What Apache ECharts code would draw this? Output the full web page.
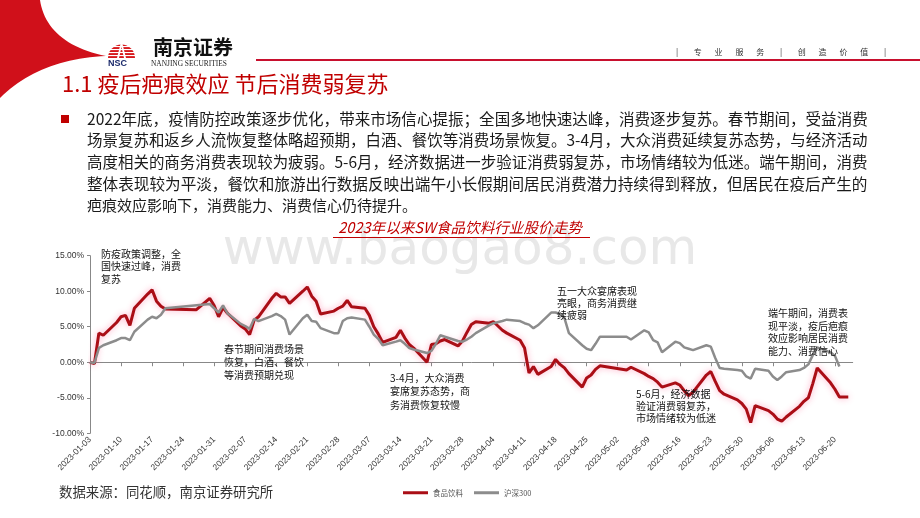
<!DOCTYPE html>
<html><head><meta charset="utf-8">
<script src="https://cdn.jsdelivr.net/npm/echarts@6/dist/echarts.min.js"></script>
<style>html,body{margin:0;padding:0;background:#fff}#c{width:920px;height:518px}</style>
</head><body><div id="c"></div>
<script>
// ---------- data ----------
const seriesNames = ['食品饮料', '沪深300'];
const foodDates = ['2023-01-03','2023-01-04','2023-01-05','2023-01-06','2023-01-09','2023-01-10','2023-01-11','2023-01-12','2023-01-13','2023-01-16','2023-01-17','2023-01-18','2023-01-19','2023-01-20','2023-01-27','2023-01-30','2023-01-31','2023-02-01','2023-02-02','2023-02-03','2023-02-06','2023-02-07','2023-02-08','2023-02-09','2023-02-10','2023-02-13','2023-02-14','2023-02-15','2023-02-16','2023-02-17','2023-02-20','2023-02-21','2023-02-22','2023-02-23','2023-02-24','2023-02-27','2023-02-28','2023-03-01','2023-03-02','2023-03-03','2023-03-06','2023-03-07','2023-03-08','2023-03-09','2023-03-10','2023-03-13','2023-03-14','2023-03-15','2023-03-16','2023-03-17','2023-03-20','2023-03-21','2023-03-22','2023-03-23','2023-03-24','2023-03-27','2023-03-28','2023-03-29','2023-03-30','2023-03-31','2023-04-03','2023-04-04','2023-04-06','2023-04-07','2023-04-10','2023-04-11','2023-04-12','2023-04-13','2023-04-14','2023-04-17','2023-04-18','2023-04-19','2023-04-20','2023-04-21','2023-04-24','2023-04-25','2023-04-26','2023-04-27','2023-04-28','2023-05-04','2023-05-05','2023-05-08','2023-05-09','2023-05-10','2023-05-11','2023-05-12','2023-05-15','2023-05-16','2023-05-17','2023-05-18','2023-05-19','2023-05-22','2023-05-23','2023-05-24','2023-05-25','2023-05-26','2023-05-29','2023-05-30','2023-05-31','2023-06-01','2023-06-02','2023-06-05','2023-06-06','2023-06-07','2023-06-08','2023-06-09','2023-06-12','2023-06-13','2023-06-14','2023-06-15','2023-06-16','2023-06-19','2023-06-20','2023-06-21','2023-06-23'];
const foodValues = [0,-0.2,4.1,3.8,5.6,6.4,6.6,5.2,7.6,9.6,10.2,8.6,7.9,7.5,7.4,9.0,8.0,6.4,7.7,6.9,5.1,4.7,3.9,5.9,6.4,9.0,9.7,9.2,9.2,8.3,10.0,10.6,9.3,8.6,6.8,7.2,7.6,7.9,8.7,7.8,7.6,6.6,5.0,4.0,2.8,3.5,4.5,3.4,2.5,2.0,0.0,2.5,2.6,3.0,3.2,2.3,3.0,4.2,5.3,5.7,5.5,5.7,4.5,4.1,3.1,2.0,-1.5,-0.6,-1.7,-0.6,0.4,-0.3,-0.8,-1.6,-3.5,-2.2,-1.8,-1.0,-0.5,-1.1,-0.7,-1.6,-2.0,-2.3,-2.8,-3.5,-2.9,-3.2,-4.0,-4.7,-4.2,-1.8,-1.3,-2.7,-4.0,-4.5,-5.3,-5.8,-6.6,-8.5,-6.1,-6.8,-7.3,-8.0,-8.3,-7.7,-6.2,-5.5,-5.0,-3.0,-0.8,-2.9,-3.8,-4.9,-4.9];
const hs300Dates = ['2023-01-03','2023-01-04','2023-01-05','2023-01-06','2023-01-09','2023-01-10','2023-01-11','2023-01-12','2023-01-13','2023-01-16','2023-01-17','2023-01-18','2023-01-19','2023-01-20','2023-01-30','2023-01-31','2023-02-01','2023-02-02','2023-02-03','2023-02-06','2023-02-07','2023-02-08','2023-02-09','2023-02-10','2023-02-13','2023-02-14','2023-02-15','2023-02-16','2023-02-17','2023-02-20','2023-02-21','2023-02-22','2023-02-23','2023-02-24','2023-02-27','2023-02-28','2023-03-01','2023-03-02','2023-03-03','2023-03-06','2023-03-07','2023-03-08','2023-03-09','2023-03-10','2023-03-13','2023-03-14','2023-03-15','2023-03-16','2023-03-17','2023-03-20','2023-03-21','2023-03-22','2023-03-23','2023-03-24','2023-03-27','2023-03-28','2023-03-29','2023-03-30','2023-03-31','2023-04-03','2023-04-04','2023-04-06','2023-04-07','2023-04-10','2023-04-11','2023-04-12','2023-04-13','2023-04-14','2023-04-17','2023-04-18','2023-04-19','2023-04-20','2023-04-21','2023-04-24','2023-04-25','2023-04-26','2023-04-27','2023-04-28','2023-05-04','2023-05-05','2023-05-08','2023-05-09','2023-05-10','2023-05-11','2023-05-12','2023-05-15','2023-05-16','2023-05-17','2023-05-18','2023-05-19','2023-05-22','2023-05-23','2023-05-24','2023-05-25','2023-05-26','2023-05-29','2023-05-30','2023-05-31','2023-06-01','2023-06-02','2023-06-05','2023-06-06','2023-06-07','2023-06-08','2023-06-09','2023-06-12','2023-06-13','2023-06-14','2023-06-15','2023-06-16','2023-06-19','2023-06-20','2023-06-21'];
const hs300Values = [0,-0.1,2.0,2.4,3.1,3.4,3.4,3.1,4.3,6.0,6.4,6.2,6.7,7.6,8.2,7.6,7.0,8.0,6.9,5.4,5.1,4.7,6.1,5.8,6.5,6.8,6.5,6.0,3.9,6.2,6.7,5.8,5.7,4.8,4.1,4.1,5.8,6.2,6.3,6.0,5.0,3.9,3.3,2.4,2.9,3.1,2.6,2.0,1.8,1.3,1.6,2.6,3.8,3.6,3.0,2.9,3.2,3.6,4.1,5.2,5.5,5.8,6.0,5.8,5.5,5.3,4.8,5.2,7.0,7.0,6.8,6.2,4.1,2.4,1.9,1.7,2.6,3.6,3.6,3.2,4.5,4.2,3.1,2.8,1.4,2.9,2.7,2.1,1.9,1.7,2.4,2.2,0.6,-0.8,-0.9,-1.1,-1.2,-2.0,-2.3,-0.9,-1.2,-2.0,-2.5,-2.0,-1.4,-1.1,-0.8,-0.3,1.0,2.1,1.4,0.9,-0.6];
const xTickLabels = ['2023-01-03','2023-01-10','2023-01-17','2023-01-24','2023-01-31','2023-02-07','2023-02-14','2023-02-21','2023-02-28','2023-03-07','2023-03-14','2023-03-21','2023-03-28','2023-04-04','2023-04-11','2023-04-18','2023-04-25','2023-05-02','2023-05-09','2023-05-16','2023-05-23','2023-05-30','2023-06-06','2023-06-13','2023-06-20'];
const xAxisStart = '2023-01-03';
const xAxisEnd = '2023-06-24';
const yTicks = [-10, -5, 0, 5, 10, 15];
const chartTitle = '2023年以来SW食品饮料行业股价走势';
const pageTitle = '1.1 疫后疤痕效应 节后消费弱复苏';
const paragraphLines = [
  '2022年底，疫情防控政策逐步优化，带来市场信心提振；全国多地快速达峰，消费逐步复苏。春节期间，受益消费',
  '场景复苏和返乡人流恢复整体略超预期，白酒、餐饮等消费场景恢复。3-4月，大众消费延续复苏态势，与经济活动',
  '高度相关的商务消费表现较为疲弱。5-6月，经济数据进一步验证消费弱复苏，市场情绪较为低迷。端午期间，消费',
  '整体表现较为平淡，餐饮和旅游出行数据反映出端午小长假期间居民消费潜力持续得到释放，但居民在疫后产生的',
  '疤痕效应影响下，消费能力、消费信心仍待提升。'
];
const annotations = [
  '防疫政策调整，全\n国快速过峰，消费\n复苏',
  '春节期间消费场景\n恢复，白酒、餐饮\n等消费预期兑现',
  '3-4月，大众消费\n宴席复苏态势，商\n务消费恢复较慢',
  '五一大众宴席表现\n亮眼，商务消费继\n续疲弱',
  '5-6月，经济数据\n验证消费弱复苏，\n市场情绪较为低迷',
  '端午期间，消费表\n现平淡，疫后疤痕\n效应影响居民消费\n能力、消费信心'
];
const sourceText = '数据来源：同花顺，南京证券研究所';
const headerChars = ['|','专','业','服','务','|','创','造','价','值','|'];

// ---------- build ----------
const day = s => (Date.UTC(+s.slice(0,4), +s.slice(5,7)-1, +s.slice(8,10)) - Date.UTC(2023,0,3)) / 864e5;
const foodData = foodDates.map((d,i)=>[day(d), foodValues[i]]);
const hsData = hs300Dates.map((d,i)=>[day(d), hs300Values[i]]);
const tickVals = xTickLabels.map(day);

const CJK = '"Noto Sans CJK SC"';
const LAT = '"Liberation Sans", "Noto Sans CJK SC"';
const RED = '#C00000';

function bez(p0,p1,p2,p3,n){const out=[];for(let i=0;i<=n;i++){const t=i/n,u=1-t;out.push([u*u*u*p0[0]+3*u*u*t*p1[0]+3*u*t*t*p2[0]+t*t*t*p3[0],u*u*u*p0[1]+3*u*u*t*p1[1]+3*u*t*t*p2[1]+t*t*t*p3[1]]);}return out;}
const crescent = [[0,0]].concat(bez([40,0],[44,28],[66,48],[106,56],24), bez([106,56],[62,58],[26,72],[0,98],24));

// fit justified paragraph lines to the text block width
const mctx = document.createElement('canvas').getContext('2d');
function fitSize(text, width, base){ mctx.font = base + 'px ' + CJK; const w = mctx.measureText(text).width; return base * width / w; }
const paraSizes = paragraphLines.map((t,i)=> i < paragraphLines.length-1 ? Math.min(16.2, fitSize(t, 781, 15)) : 15);

const annPos = [[101,247.5,12.7],[224,343,12.7],[390,371,13.6],[557,285.5,11.8],[636,388,12.2],[768,307,12.6]];

const graphic = [];
graphic.push({type:'text', z:0, left:'center', top:226, style:{text:'www.baogao8.com', font:'50px "DejaVu Sans"', fill:'#e8e8e8'}});
graphic.push({type:'polygon', z:10, shape:{points:crescent}, style:{fill:'#D0101A'}});
graphic.push({type:'sector', z:10, shape:{cx:121.5, cy:58, r:13.5, startAngle:Math.PI, endAngle:2*Math.PI}, style:{fill:'#D7191C'}});
for (let i=0;i<4;i++) graphic.push({type:'rect', z:11, shape:{x:107,y:46+i*3,width:29,height:1.1}, style:{fill:'#fff'}});
graphic.push({type:'polygon', z:12, shape:{points:[[117,58],[121.5,40],[126,58],[124,58],[121.5,47],[119,58]]}, style:{fill:'#fff'}});
graphic.push({type:'text', z:10, x:153, y:47, style:{text:'南京证券', font:'bold 20px ' + CJK, fill:'#111', verticalAlign:'middle'}});
graphic.push({type:'text', z:10, x:108, y:64, style:{text:'NSC', font:'bold 9px ' + LAT, fill:'#1b2a6b', verticalAlign:'middle'}});
graphic.push({type:'text', z:10, x:151, y:64, style:{text:'NANJING SECURITIES', font:'7.4px "Liberation Serif"', fill:'#222', verticalAlign:'middle'}});
graphic.push({type:'rect', z:10, shape:{x:256,y:59,width:664,height:2}, style:{fill:'#C8102E'}});
headerChars.forEach((ch,i)=>graphic.push({type:'text', z:10, x:677+i*20.8, y:52, style:{text:ch, font:'8px ' + CJK, fill:'#333', align:'center', verticalAlign:'middle'}}));
graphic.push({type:'text', z:10, x:62, y:84, style:{text:pageTitle, font:'22px ' + CJK, fill:RED, verticalAlign:'middle'}});
graphic.push({type:'rect', z:10, shape:{x:61,y:115,width:8,height:8}, style:{fill:RED}});
paragraphLines.forEach((t,i)=>graphic.push({type:'text', z:10, x:87, y:119+i*21.6, style:{text:t, font:paraSizes[i].toFixed(2)+'px ' + CJK, fill:'#1a1a1a', verticalAlign:'middle'}}));
graphic.push({type:'text', z:10, left:'center', top:220, style:{text:chartTitle, font:'italic 14.6px ' + CJK, fill:RED}});
graphic.push({type:'rect', z:10, shape:{x:333,y:237,width:257,height:1}, style:{fill:RED}});
annotations.forEach((t,i)=>graphic.push({type:'text', z:10, x:annPos[i][0], y:annPos[i][1], style:{text:t, font:'10px ' + CJK, fill:'#111', lineHeight:annPos[i][2], verticalAlign:'top'}}));
graphic.push({type:'text', z:10, x:59, y:492, style:{text:sourceText, font:'13.4px ' + CJK, fill:'#333', verticalAlign:'middle'}});

const chart = echarts.init(document.getElementById('c'), null, {renderer:'canvas'});
chart.setOption({
  animation:false,
  backgroundColor:'#fff',
  textStyle:{fontFamily:LAT},
  grid:{left:90, right:67.3, top:255.7, bottom:84.7},
  legend:{
    data:seriesNames, left:398, top:484, icon:'rect', itemWidth:25, itemHeight:3, itemGap:11,
    textStyle:{fontSize:7.5, color:'#555', fontFamily:CJK}
  },
  xAxis:{
    type:'value', min:day(xAxisStart), max:day(xAxisEnd),
    axisLine:{show:true, lineStyle:{color:'#888', width:1}},
    axisTick:{show:true, length:4, customValues:tickVals, lineStyle:{color:'#888'}},
    axisLabel:{customValues:tickVals, rotate:45, fontSize:8.5, color:'#333', margin:5,
      formatter:v=>{const k=tickVals.indexOf(v); return k>=0?xTickLabels[k]:'';}},
    splitLine:{show:false}
  },
  yAxis:{
    type:'value', min:yTicks[0], max:yTicks[yTicks.length-1], interval:5,
    axisLine:{show:true, lineStyle:{color:'#888', width:1}},
    axisTick:{show:true, length:3, lineStyle:{color:'#888'}},
    axisLabel:{fontSize:8.5, color:'#333', margin:6, formatter:v=>v.toFixed(2)+'%'},
    splitLine:{show:false}
  },
  series:[
    {name:seriesNames[0], type:'line', data:foodData, symbol:'none', z:3,
     lineStyle:{color:'#AA0E16', width:3, shadowColor:'rgba(255,60,120,0.45)', shadowBlur:6}, itemStyle:{color:'#AA0E16'}},
    {name:seriesNames[1], type:'line', data:hsData, symbol:'none', z:4,
     lineStyle:{color:'#8C8C8C', width:2.5}, itemStyle:{color:'#8C8C8C'}}
  ],
  graphic:graphic
});
</script>
</body></html>
